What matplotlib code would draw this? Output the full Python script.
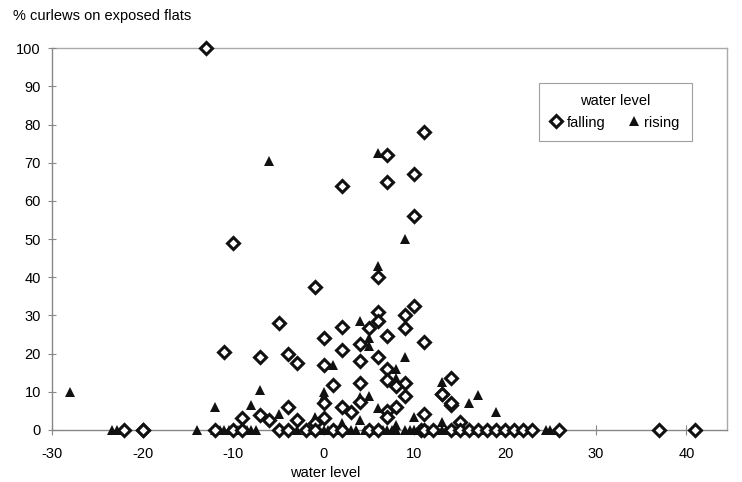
import matplotlib
matplotlib.use('Agg')
import matplotlib.pyplot as plt
from matplotlib.lines import Line2D

# water level falling (open diamonds)
falling_x = [-13, -10, 2, 7, 7, 10, 10, 11, 6, -1, 10, 6, 9, 6, 2, 5, 9, -5,
             0, 7, 4, 2, 11, -11, -7, -4, -3, 0, 4, 6, 7, 7, 8, 9, 4, 1,
             14, 13, 9, 14, 8, 7, 11, 15, -4, 0, -9, -7, -6, -3, 0, 4, 2, 3,
             -1, 7, 14, 13,
             -22, -20, -20, -12, -10, -9, -5, -4, -2, -1, 1, 2, 5, 6, 10.7,
             11, 12, 14, 15, 16, 17, 18, 19, 20, 21, 22, 23, 26, 37, 41]
falling_y = [100, 49, 64, 72, 65, 67, 56, 78, 40, 37.5, 32.5, 31, 30, 28.5, 27, 26.7, 26.7, 28,
             24, 24.5, 22.5, 21, 23, 20.5, 19, 20, 17.5, 17, 18, 19, 16, 13, 11.5, 12.3, 12.3, 11.8,
             13.7, 9.4, 8.8, 6.5, 6, 5, 4.2, 2, 6, 7, 3, 4, 2.5, 2.6, 3, 7.3, 6, 4.7,
             1.8, 3.5, 7, 9.5,
             0, 0, 0, 0, 0, 0, 0, 0, 0, 0, 0, 0, 0, 0, 0,
             0, 0, 0, 0, 0, 0, 0, 0, 0, 0, 0, 0, 0, 0, 0]

# water level rising (filled triangles)
rising_x = [-28, -23.4, -22.8, -14, -12, -12, -11, -10, -9.5, -9, -8, -7.5, -7, -8,
            -6, -5, -1, -2, -1, 0, 0, 0, 1, 2, 3, 4, 4, 4, 5, 5, 5, 6, 6, 6, 6,
            7, 8, 8, 8, 8, 9, 9, 9, 10, 10, 11, 12, 13, 13, 13, 14, 15, 16, 17,
            19, 16, 18, 24.5, 25, -3, 1.5, 12.5, 14,
            -11.5, -10.5, -8.5, 0.5, 2.5, 3.5, 4.5, 6.5, 7.5, 9.5, 10.5, 11.5,
            13.5, 14.5, 15.5, 17, 20, 22, 25.8]
rising_y = [10, 0, 0, 0, 6, 0, 0, 0, 0, 0, 0, 0, 10.5, 6.5,
            70.5, 4.2, 3.5, 0, 0, 0, 9, 10, 17, 1.8, 0, 2.6, 8.5, 28.5, 24, 22, 9, 72.5, 43, 5.8, 0,
            0, 16, 13.5, 1.3, 0, 50, 19, 0, 3.4, 0, 0, 0, 12.6, 2, 0, 0, 0, 7, 9.2,
            4.7, 0, 0, 0, 0, 0, 0, 0, 0,
            0, 0, 0, 0, 0, 0, 0, 0, 0, 0, 0, 0,
            0, 0, 0, 0, 0, 0, 0]

plt.rcParams['font.family'] = ['Liberation Sans', 'DejaVu Sans']
plt.rcParams['axes.unicode_minus'] = False
fig = plt.figure(figsize=(7.42, 4.82), dpi=100)
ax = fig.add_axes([0.070, 0.108, 0.910, 0.792])

ax.plot(rising_x, rising_y, linestyle='none', marker='^', markersize=7,
        color='#111111', markeredgewidth=0, clip_on=False)
ax.plot(falling_x, falling_y, linestyle='none', marker='D', markersize=6.5,
        markerfacecolor='white', markeredgecolor='#111111', markeredgewidth=2.2,
        clip_on=False)

ax.set_xlim(-30, 44.5)
ax.set_ylim(0, 100)
ax.set_xticks(range(-30, 41, 10))
ax.set_yticks(range(0, 101, 10))
ax.tick_params(axis='x', direction='inout', length=7, color='#888888',
               pad=9, labelsize=10.5)
ax.tick_params(axis='y', direction='inout', length=6, color='#888888',
               pad=5, labelsize=10.5)
for side in ['left', 'bottom']:
  ax.spines[side].set_color('#888888')
for side in ['top', 'right']:
  ax.spines[side].set_color('#aaaaaa')
for sp in ax.spines.values():
  sp.set_linewidth(1.0)
  sp.set_zorder(0)

handles = [Line2D([], [], linestyle='none', marker='D', markersize=6,
                  markerfacecolor='white', markeredgecolor='#111111',
                  markeredgewidth=2.2),
           Line2D([], [], linestyle='none', marker='^', markersize=7,
                  color='#111111', markeredgewidth=0)]
leg = ax.legend(handles, ['falling', 'rising'], title='water level', ncol=2,
                loc='upper right', bbox_to_anchor=(0.958, 0.929),
                frameon=True, fancybox=False, edgecolor='#888888',
                fontsize=10.5, title_fontsize=10.5, handlelength=0.8,
                handletextpad=0.3, columnspacing=1.6, borderpad=0.8)
leg.get_frame().set_linewidth(0.8)

fig.text(13 / 742, 1 - 16 / 482, '% curlews on exposed flats',
         fontsize=10.5, ha='left', va='center')
fig.text(325 / 742, 1 - 473 / 482, 'water level', fontsize=10.5,
         ha='center', va='center')

fig.savefig('out.png', dpi=100)
